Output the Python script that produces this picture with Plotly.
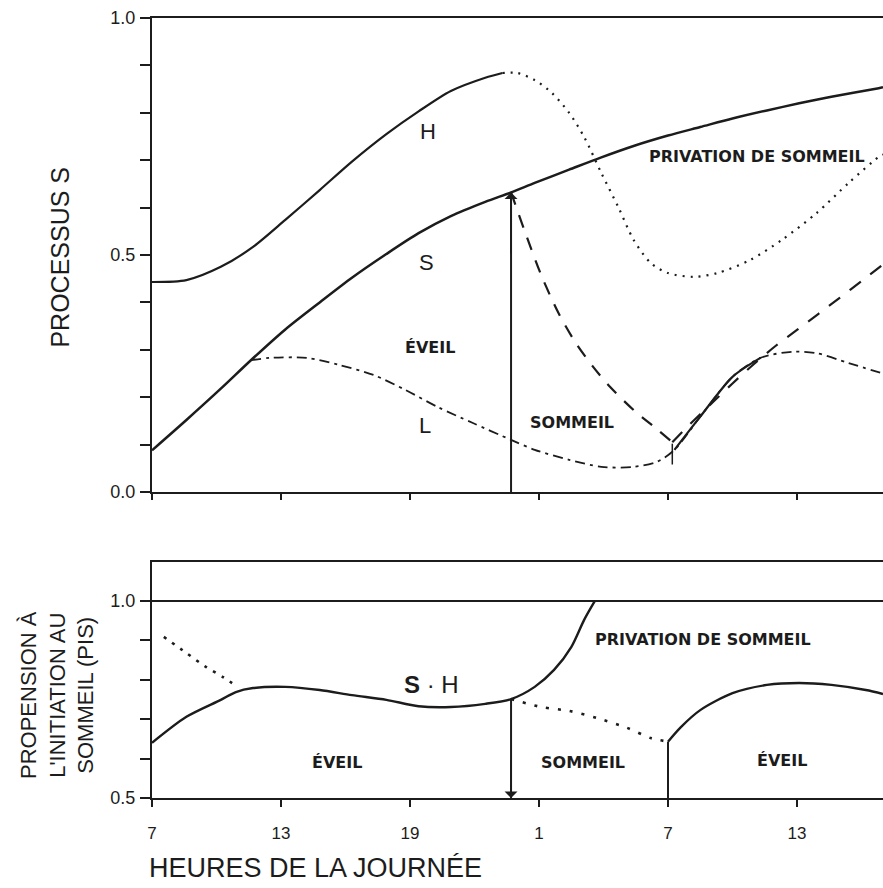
import plotly.graph_objects as go
from plotly.subplots import make_subplots

INK = "#1c1c1c"
LABEL_FONT = "Liberation Sans, Arial, sans-serif"
REGION_FONT = "DejaVu Sans, Verdana, sans-serif"

# hours elapsed since 07:00 on the first day
HOUR_TICKS = [0, 6, 12, 18, 24, 30]
HOUR_LABELS = ["7", "13", "19", "1", "7", "13"]
X_RANGE = [0, 34]

# ---- upper panel: process S with thresholds H and L ----
S_TICKS = [0.0, 0.1, 0.2, 0.3, 0.4, 0.5, 0.6, 0.7, 0.8, 0.9, 1.0]
S_TICK_LABELS = ["0.0", "", "", "", "", "0.5", "", "", "", "", "1.0"]

H_SOLID_T = [0, 1.6, 3.2, 4.7, 6.2, 7.8, 9.3, 10.9, 12.4, 13.9, 15.5, 16.3]
H_SOLID_V = [0.443, 0.447, 0.475, 0.517, 0.574, 0.637, 0.697, 0.755, 0.803, 0.846, 0.874, 0.884]

H_DOTTED_T = [16.3, 17.0, 17.8, 18.6, 19.4, 20.1, 20.9, 21.7, 22.4, 23.2, 24.0, 25.2,
              26.3, 27.8, 29.3, 30.9, 32.4, 33.8, 34.0]
H_DOTTED_V = [0.884, 0.884, 0.869, 0.842, 0.800, 0.749, 0.673, 0.600, 0.532, 0.483, 0.462, 0.454,
              0.462, 0.489, 0.532, 0.588, 0.652, 0.707, 0.712]

S_WAKE_T = [0, 1.6, 3.2, 4.6, 6.2, 7.8, 9.3, 10.9, 12.4, 13.9, 15.5, 16.7, 17.8, 19.4,
            20.9, 22.4, 24.0, 25.5, 27.0, 28.6, 30.1, 31.6, 33.8, 34.0]
S_WAKE_V = [0.088, 0.152, 0.218, 0.278, 0.343, 0.400, 0.452, 0.502, 0.546, 0.582, 0.612, 0.632,
            0.652, 0.680, 0.706, 0.730, 0.752, 0.770, 0.788, 0.805, 0.820, 0.834, 0.852, 0.854]

S_SLEEP_T = [16.7, 17.3, 18.1, 18.9, 19.7, 20.5, 21.3, 22.4, 23.5, 24.2]
S_SLEEP_V = [0.632, 0.555, 0.458, 0.378, 0.315, 0.265, 0.222, 0.173, 0.132, 0.105]

S_RECOVERY_T = [24.2, 25.0, 26.0, 27.0, 28.0, 29.0, 30.0, 31.0, 32.0, 33.0, 34.0]
S_RECOVERY_V = [0.105, 0.142, 0.186, 0.229, 0.270, 0.308, 0.342, 0.376, 0.410, 0.445, 0.480]

L_T = [4.6, 5.5, 7.2, 8.7, 10.3, 11.8, 13.3, 14.9, 16.7, 17.8, 19.4, 20.9, 22.4, 23.5,
       24.3, 25.5, 27.0, 28.3, 29.8, 30.9, 32.4, 34.0]
L_V = [0.278, 0.283, 0.283, 0.268, 0.247, 0.215, 0.179, 0.146, 0.110, 0.089, 0.068, 0.053,
       0.053, 0.064, 0.089, 0.159, 0.243, 0.283, 0.296, 0.293, 0.272, 0.250]
L_HEAVY_SPAN = [24.3, 28.3]
WAKE_MARK = [0.058, 0.102]

SLEEP_ONSET = 16.7
S_AT_ONSET = 0.632

# ---- lower panel: sleep propensity (S - H) ----
PIS_TICKS = [0.5, 0.6, 0.7, 0.8, 0.9, 1.0]
PIS_TICK_LABELS = ["0.5", "", "", "", "", "1.0"]
PIS_RANGE = [0.5, 1.1]
PIS_THRESHOLD = 1.0

SH_T = [0, 1.6, 3.2, 3.9, 4.7, 6.2, 7.8, 9.3, 10.9, 12.4, 13.9, 15.5, 16.7, 17.8, 18.7,
        19.5, 20.1, 20.6]
SH_V = [0.640, 0.706, 0.749, 0.769, 0.779, 0.782, 0.774, 0.761, 0.749, 0.733, 0.731, 0.739,
        0.751, 0.782, 0.825, 0.883, 0.952, 1.0]

PIS_MORNING_T = [0.55, 1.6, 2.5, 3.3, 3.9]
PIS_MORNING_V = [0.909, 0.868, 0.833, 0.807, 0.785]

PIS_SLEEP_T = [16.7, 18.1, 19.4, 20.7, 22.1, 23.2, 24.0]
PIS_SLEEP_V = [0.751, 0.731, 0.721, 0.703, 0.678, 0.652, 0.643]

WAKE_TIME = 24.0
SH2_T = [24.0, 24.6, 25.5, 27.0, 28.6, 30.1, 31.6, 33.2, 34.0]
SH2_V = [0.643, 0.680, 0.723, 0.766, 0.787, 0.792, 0.787, 0.774, 0.764]
SH_AT_ONSET = 0.751

fig = make_subplots(rows=2, cols=1)


def curve(t, v, row, width=2.2, dash="solid"):
    fig.add_trace(
        go.Scatter(x=t, y=v, mode="lines", line=dict(color=INK, width=width, dash=dash,
                   shape="spline", smoothing=0.8), hoverinfo="skip", showlegend=False),
        row=row, col=1)


def vline(x, y0, y1, row, width=2):
    fig.add_trace(go.Scatter(x=[x, x], y=[y0, y1], mode="lines", line=dict(color=INK, width=width),
                             hoverinfo="skip", showlegend=False), row=row, col=1)


# upper panel curves
curve(H_SOLID_T, H_SOLID_V, 1)
curve(H_DOTTED_T, H_DOTTED_V, 1, width=2.2, dash="2px,6px")
curve(S_WAKE_T, S_WAKE_V, 1, width=2.5)
curve(S_SLEEP_T, S_SLEEP_V, 1, width=2.2, dash="13px,11px")
curve(S_RECOVERY_T, S_RECOVERY_V, 1, width=2.2, dash="14px,12px")
curve(L_T, L_V, 1, width=1.8, dash="10px,5px,3px,5px")
heavy = [(t, v) for t, v in zip(L_T, L_V) if L_HEAVY_SPAN[0] <= t <= L_HEAVY_SPAN[1]]
curve([p[0] for p in heavy], [p[1] for p in heavy], 1, width=2.2)
vline(SLEEP_ONSET, 0, S_AT_ONSET, 1)
vline(S_SLEEP_T[-1], WAKE_MARK[0], WAKE_MARK[1], 1, width=1.5)

# lower panel curves
fig.add_trace(go.Scatter(x=X_RANGE, y=[PIS_THRESHOLD, PIS_THRESHOLD], mode="lines",
                         line=dict(color=INK, width=2.2), hoverinfo="skip", showlegend=False),
              row=2, col=1)
curve(SH_T, SH_V, 2, width=2.4)
curve(PIS_MORNING_T, PIS_MORNING_V, 2, width=2.6, dash="3px,7px")
curve(PIS_SLEEP_T, PIS_SLEEP_V, 2, width=2.6, dash="3px,9px")
curve(SH2_T, SH2_V, 2, width=2.4)
vline(SLEEP_ONSET, PIS_RANGE[0], SH_AT_ONSET, 2)
vline(WAKE_TIME, PIS_RANGE[0], SH2_V[0], 2)

annotations = []
# arrowheads at sleep onset
annotations.append(dict(x=SLEEP_ONSET, y=S_AT_ONSET, ax=SLEEP_ONSET, ay=0.5, xref="x", yref="y",
                        axref="x", ayref="y", text="", showarrow=True, arrowhead=1,
                        arrowsize=1.2, arrowwidth=1.8, arrowcolor=INK))
annotations.append(dict(x=SLEEP_ONSET, y=PIS_RANGE[0], ax=SLEEP_ONSET, ay=0.6, xref="x2", yref="y2",
                        axref="x2", ayref="y2", text="", showarrow=True, arrowhead=1,
                        arrowsize=1.2, arrowwidth=1.8, arrowcolor=INK))


def label(text, x, y, ref, size, family, bold=False):
    annotations.append(dict(text=f"<b>{text}</b>" if bold else text, x=x, y=y,
                            xref="x" if ref == 1 else "x2", yref="y" if ref == 1 else "y2",
                            xanchor="center", yanchor="middle", showarrow=False,
                            font=dict(family=family, size=size, color=INK)))


label("H", 12.84, 0.76, 1, 22, LABEL_FONT)
label("S", 12.79, 0.485, 1, 22, LABEL_FONT)
label("L", 12.70, 0.141, 1, 22, LABEL_FONT)
label("ÉVEIL", 12.93, 0.304, 1, 16, REGION_FONT, bold=True)
label("SOMMEIL", 19.53, 0.146, 1, 16, REGION_FONT, bold=True)
label("PRIVATION DE SOMMEIL", 28.14, 0.707, 1, 16, REGION_FONT, bold=True)

label("ÉVEIL", 8.6, 0.591, 2, 16, REGION_FONT, bold=True)
label("SOMMEIL", 20.05, 0.591, 2, 16, REGION_FONT, bold=True)
label("ÉVEIL", 29.3, 0.596, 2, 16, REGION_FONT, bold=True)
label("PRIVATION DE SOMMEIL", 25.63, 0.901, 2, 16, REGION_FONT, bold=True)
label("<b>S</b> · H", 13.0, 0.789, 2, 24, LABEL_FONT)

# axis titles
annotations.append(dict(text="PROCESSUS S", x=-0.126, y=0.694, xref="paper", yref="paper",
                        xanchor="center", yanchor="middle", textangle=-90, showarrow=False,
                        font=dict(family=LABEL_FONT, size=25, color=INK)))
annotations.append(dict(text="PROPENSION À<br>L'INITIATION AU<br>SOMMEIL (PIS)", x=-0.130, y=0.132,
                        xref="paper", yref="paper", xanchor="center", yanchor="middle",
                        textangle=-90, showarrow=False, align="center",
                        font=dict(family=LABEL_FONT, size=22, color=INK)))
annotations.append(dict(text="HEURES DE LA JOURNÉE", x=0.223, y=-0.0897, xref="paper", yref="paper",
                        xanchor="center", yanchor="middle", showarrow=False,
                        font=dict(family=LABEL_FONT, size=27, color=INK)))

axis_common = dict(showgrid=False, zeroline=False, showline=True, linecolor=INK, linewidth=2,
                   ticks="outside", tickcolor=INK, tickwidth=1.6)

fig.update_layout(
    width=883, height=888,
    margin=dict(l=152, r=0, t=18, b=90),
    paper_bgcolor="white", plot_bgcolor="white",
    showlegend=False,
    annotations=annotations,
    xaxis=dict(**axis_common, domain=[0, 1], range=X_RANGE, tickvals=HOUR_TICKS,
               showticklabels=False, ticklen=6, mirror=True, anchor="y"),
    yaxis=dict(**axis_common, domain=[0.3923, 1], range=[0, 1], tickvals=S_TICKS,
               ticktext=S_TICK_LABELS, ticklen=10, ticklabelstandoff=1,
               tickfont=dict(family=LABEL_FONT, size=18, color=INK)),
    xaxis2=dict(**axis_common, domain=[0, 1], range=X_RANGE, tickvals=HOUR_TICKS,
                ticktext=HOUR_LABELS, ticklen=7, mirror=True, anchor="y2", ticklabelstandoff=12,
                tickfont=dict(family=LABEL_FONT, size=17, color=INK)),
    yaxis2=dict(**axis_common, domain=[0, 0.3031], range=PIS_RANGE, tickvals=PIS_TICKS,
                ticktext=PIS_TICK_LABELS, ticklen=10, ticklabelstandoff=1,
                tickfont=dict(family=LABEL_FONT, size=18, color=INK)),
)

fig.write_html("out.html")
